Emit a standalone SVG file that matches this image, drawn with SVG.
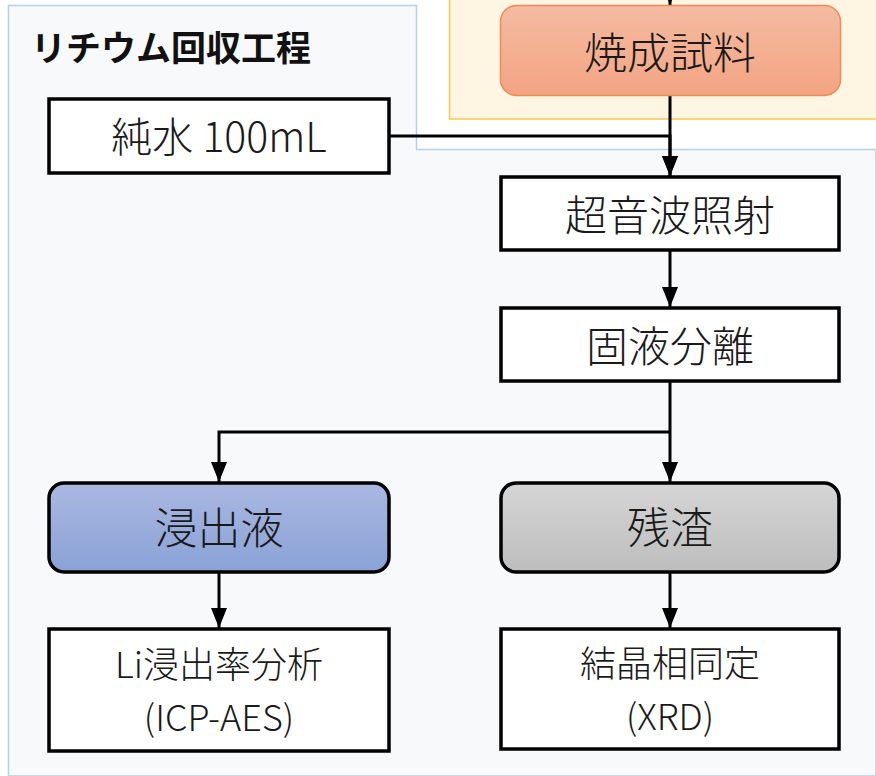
<svg xmlns="http://www.w3.org/2000/svg" width="876" height="776" viewBox="0 0 876 776">
<defs>
<linearGradient id="gOrange" x1="0" y1="0" x2="0" y2="1"><stop offset="0" stop-color="#f5bba2"/><stop offset="1" stop-color="#f3a482"/></linearGradient>
<linearGradient id="gBlue" x1="0" y1="0" x2="0" y2="1"><stop offset="0" stop-color="#a9b8e1"/><stop offset="1" stop-color="#8aa2d6"/></linearGradient>
<linearGradient id="gGray" x1="0" y1="0" x2="0" y2="1"><stop offset="0" stop-color="#d6d6d6"/><stop offset="1" stop-color="#bdbdbd"/></linearGradient>
<marker id="arr" markerWidth="20" markerHeight="16" refX="20" refY="8" orient="auto" markerUnits="userSpaceOnUse" viewBox="0 0 20 16">
<path d="M0,0 L20,8 L0,16 Z" fill="#000"/>
</marker>
</defs>
<style>
.t{font-family:"Noto Sans CJK JP","Noto Sans",sans-serif;font-weight:300;fill:#1a1a1a;text-anchor:middle;dominant-baseline:central}
.box{fill:#fff;stroke:#000;stroke-width:3.5}
.conn{fill:none;stroke:#000;stroke-width:3}
</style>
<rect width="876" height="776" fill="#fff"/>
<path d="M8.5,5.5 H416.5 V149.5 H876 V776 H8.5 Z" fill="#f8f9fb" stroke="#b7cfe9" stroke-width="1.5"/>
<rect x="449.5" y="-10" width="440" height="129" fill="#fff5e3" stroke="#f8c84a" stroke-width="1.5"/>
<text x="31" y="45" font-family="'Noto Sans CJK JP',sans-serif" font-weight="bold" font-size="35" fill="#111" dominant-baseline="central">リチウム回収工程</text>
<g id="connectors">
<line class="conn" x1="670" y1="-20" x2="670" y2="5" marker-end="url(#arr)"/>
<polyline class="conn" points="390,136 670,136 670,176" marker-end="url(#arr)"/>
<line class="conn" x1="670" y1="96" x2="670" y2="176" marker-end="url(#arr)"/>
<line class="conn" x1="670" y1="250" x2="670" y2="307" marker-end="url(#arr)"/>
<line class="conn" x1="670" y1="381" x2="670" y2="482" marker-end="url(#arr)"/>
<polyline class="conn" points="670,432 219,432 219,482" marker-end="url(#arr)"/>
<line class="conn" x1="219" y1="572" x2="219" y2="628" marker-end="url(#arr)"/>
<line class="conn" x1="670" y1="572" x2="670" y2="628" marker-end="url(#arr)"/>
</g>
<g id="node-sample">
<rect x="500.5" y="5.5" width="340" height="90" rx="16" fill="url(#gOrange)" stroke="#ee8a55" stroke-width="1.5"/>
<text class="t" x="670" y="50" font-size="43">焼成試料</text>
</g>
<g id="node-water">
<rect class="box" x="49" y="99" width="340" height="74"/>
<text class="t" x="219" y="134" font-size="41">純水 100mL</text>
</g>
<g id="node-ultrasonic">
<rect class="box" x="501" y="177" width="338" height="73"/>
<text class="t" x="670" y="212" font-size="42">超音波照射</text>
</g>
<g id="node-separation">
<rect class="box" x="501" y="308" width="338" height="73"/>
<text class="t" x="670" y="343" font-size="42">固液分離</text>
</g>
<g id="node-leachate">
<rect x="49" y="483" width="340" height="89" rx="15" fill="url(#gBlue)" stroke="#000" stroke-width="3.5"/>
<text class="t" x="219" y="525" font-size="43">浸出液</text>
</g>
<g id="node-residue">
<rect x="501" y="483" width="338" height="89" rx="15" fill="url(#gGray)" stroke="#000" stroke-width="3.5"/>
<text class="t" x="670" y="525" font-size="43">残渣</text>
</g>
<g id="node-icp">
<rect class="box" x="49" y="629" width="340" height="122"/>
<text class="t" x="219" y="662" font-size="36">Li浸出率分析</text>
<text class="t" x="219" y="715" font-size="36">(ICP-AES)</text>
</g>
<g id="node-xrd">
<rect class="box" x="501" y="629" width="338" height="120"/>
<text class="t" x="670" y="661" font-size="36">結晶相同定</text>
<text class="t" x="670" y="714" font-size="36">(XRD)</text>
</g>
</svg>
